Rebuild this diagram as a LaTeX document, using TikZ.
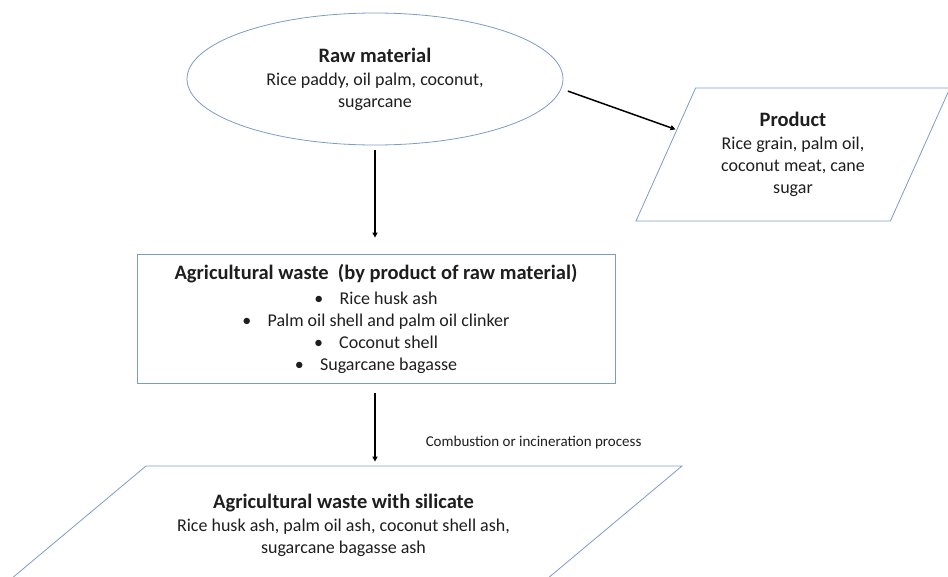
\documentclass[tikz,border=0pt]{standalone}
\usepackage{fontspec}
\setmainfont{Carlito}
\usetikzlibrary{arrows.meta, positioning, shapes.geometric}
\definecolor{outline}{RGB}{125,155,200}
\definecolor{ink}{RGB}{30,30,30}
\newcommand{\Head}[1]{{\fontsize{20.5}{22}\selectfont\bfseries #1}}
\newcommand{\Item}[1]{\textbullet\hspace{0.9em}#1}
\tikzset{
    block/.style={draw=outline, line width=0.8pt, align=center, text=ink,
      inner sep=0pt, font=\fontsize{18}{22}\selectfont},
    lean/.style={block, trapezium, trapezium stretches body=true,
      trapezium left angle=#1, trapezium right angle=180-#1},
    flow/.style={-{Triangle[length=5pt, width=5pt]}, line width=1.5pt, black},
}

\begin{document}
\begin{tikzpicture}[x=1pt, y=-1pt]
    \useasboundingbox (0,0) rectangle (948,576);

    \node[block, ellipse, minimum width=376pt, minimum height=132pt] (raw) at (375,79)
      {\Head{Raw material}\\[1pt]Rice paddy, oil palm, coconut,\\sugarcane};

    \node[lean=54.8, minimum width=314pt, minimum height=133pt] (product) at (793,154.5)
      {\Head{Product}\\[1pt]Rice grain, palm oil,\\coconut meat, cane\\sugar};

    \node[block, rectangle, minimum width=478pt, minimum height=129pt] (waste) at (376,318.5)
      {\Head{Agricultural waste~ (by product of raw material)}\\[3pt]
       \Item{Rice husk ash}\\
       \Item{Palm oil shell and palm oil clinker}\\
       \Item{Coconut shell}\\
       \Item{Sugarcane bagasse}};

    \node[lean=23.9, minimum width=677pt, minimum height=118pt] (ash) at (343.5,525)
      {\Head{Agricultural waste with silicate}\\[1pt]Rice husk ash, palm oil ash, coconut shell ash,\\sugarcane bagasse ash};

    \draw (raw) edge[flow, shorten <=5pt, shorten >=16pt] (raw |- waste.north);
    \draw (raw.-3) edge[flow, shorten <=7pt, shorten >=1pt] (product.168);
    \draw (raw |- waste.south) edge[flow, shorten <=10pt, shorten >=4pt]
      node[pos=0.72, right, xshift=50pt, inner sep=0pt, text=ink, font=\fontsize{15}{18}\selectfont] (burn)
      {Combustion or incineration process} (raw |- ash.north);
\end{tikzpicture}
\end{document}
